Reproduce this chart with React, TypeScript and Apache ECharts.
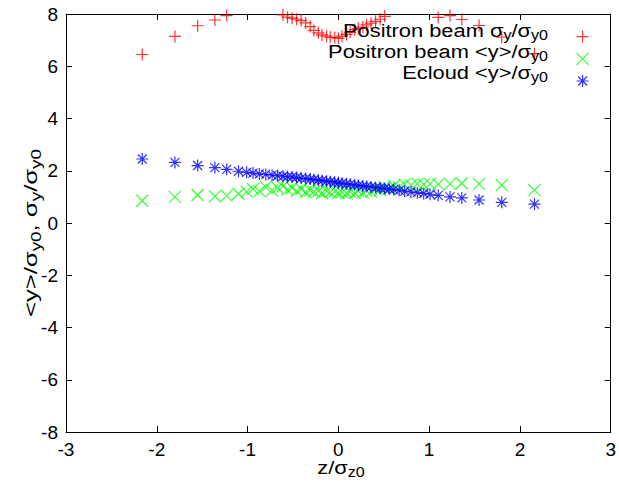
import React, { useEffect, useRef } from "react";
import * as echarts from "echarts";

const zValues = [
  -2.16, -1.8, -1.55, -1.36, -1.23, -1.1, -1.01, -0.94, -0.87, -0.8, -0.73, -0.67, -0.61,
  -0.56, -0.51, -0.46, -0.41, -0.36, -0.31, -0.27, -0.22, -0.18, -0.13, -0.09, -0.04, 0,
  0.04, 0.09, 0.13, 0.18, 0.22, 0.27, 0.31, 0.36, 0.41, 0.46, 0.51, 0.56, 0.61, 0.67, 0.73,
  0.8, 0.87, 0.94, 1.01, 1.1, 1.23, 1.36, 1.55, 1.8, 2.16,
];

const positronSigma = [
  6.45, 7.14, 7.55, 7.77, 7.94, 8.05, 8.12, 8.18, 8.2, 8.18, 8.12, 8.05, 7.97,
  7.88, 7.84, 7.8, 7.75, 7.66, 7.52, 7.37, 7.28, 7.2, 7.15, 7.11, 7.1, 7.07,
  7.15, 7.22, 7.3, 7.4, 7.45, 7.5, 7.58, 7.65, 7.72, 7.8, 7.91, 8.04, 8.08, 8.12, 8.15,
  8.18, 8.15, 8.1, 8.03, 7.87, 7.94, 7.79, 7.56, 7.11, 6.48,
];

const positronMean = [
  0.85, 1.0, 1.07, 1.02, 1.05, 1.12, 1.2, 1.3, 1.22, 1.38, 1.25, 1.35, 1.4,
  1.28, 1.35, 1.22, 1.3, 1.18, 1.25, 1.2, 1.22, 1.15, 1.22, 1.18, 1.2, 1.15,
  1.18, 1.14, 1.2, 1.15, 1.22, 1.16, 1.25, 1.2, 1.3, 1.25, 1.38, 1.32, 1.42, 1.38, 1.48,
  1.45, 1.5, 1.47, 1.5, 1.48, 1.5, 1.52, 1.5, 1.45, 1.26,
];

const ecloudMean = [
  2.45, 2.32, 2.2, 2.12, 2.05, 1.98, 1.94, 1.91, 1.88, 1.86, 1.83, 1.81, 1.79,
  1.77, 1.76, 1.74, 1.72, 1.7, 1.68, 1.66, 1.64, 1.62, 1.6, 1.58, 1.56, 1.54,
  1.52, 1.5, 1.48, 1.46, 1.44, 1.42, 1.4, 1.38, 1.36, 1.34, 1.32, 1.3, 1.28, 1.25, 1.22,
  1.19, 1.16, 1.13, 1.1, 1.06, 1.0, 0.96, 0.88, 0.79, 0.72,
];

const seriesNames = ["Positron beam sigma", "Positron beam mean", "Ecloud mean"];
const legendTexts = [
  "{m|Positron beam σ}{s|y}{m|/σ}{s|y0}",
  "{m|Positron beam <y>/σ}{s|y0}",
  "{m|Ecloud <y>/σ}{s|y0}",
];
const xTitle = "{m|z/σ}{s|z0}";
const yTitle = "{m|<y>/σ}{s|y0}{m|, σ}{s|y}{m|/σ}{s|y0}";

const FONT = "Liberation Sans, Arial, Helvetica, sans-serif";

const PLUS = "path://M0,6L12,6M6,0L6,12";
const CROSS = "path://M0,0L12,12M12,0L0,12";
const STAR = "path://M0,6L12,6M6,0L6,12M1.5,1.5L10.5,10.5M10.5,1.5L1.5,10.5";

const rich = {
  m: { fontSize: 19, fontFamily: FONT, fill: "#000", color: "#000" },
  s: { fontSize: 14, fontFamily: FONT, fill: "#000", color: "#000", padding: [10, 0, 0, 0] },
};

export default function App() {
  const ref = useRef<HTMLDivElement>(null);
  useEffect(() => {
    if (!ref.current) return;
    document.body.style.margin = "0";
    const chart = echarts.init(ref.current, undefined, { renderer: "svg" });
    const mk = (ys: number[]) => zValues.map((z, i) => [z, ys[i]]);
    const xBase = {
      type: "value" as const,
      min: -3,
      max: 3,
      interval: 1,
      splitLine: { show: false },
      axisLine: { show: true, onZero: false, lineStyle: { color: "#000", width: 1 } },
      axisTick: { show: true, inside: true, length: 6, lineStyle: { color: "#000" } },
    };
    const yBase = {
      type: "value" as const,
      min: -8,
      max: 8,
      interval: 2,
      splitLine: { show: false },
      axisLine: { show: true, onZero: false, lineStyle: { color: "#000", width: 1 } },
      axisTick: { show: true, inside: true, length: 6, lineStyle: { color: "#000" } },
    };
    const textStyle = (t: string) => ({
      text: t,
      rich,
      align: "center",
      textAlign: "center",
      verticalAlign: "middle",
      textVerticalAlign: "middle",
      fill: "#000",
    });
    chart.setOption({
      animation: false,
      backgroundColor: "#fff",
      grid: { left: 66, right: 4, top: 14, bottom: 50, containLabel: false },
      xAxis: [
        {
          ...xBase,
          position: "bottom",
          axisLabel: { show: true, color: "#000", fontSize: 19, fontFamily: FONT, margin: 8 },
        },
        { ...xBase, position: "top", axisLabel: { show: false } },
      ],
      yAxis: [
        {
          ...yBase,
          position: "left",
          axisLabel: { show: true, color: "#000", fontSize: 19, fontFamily: FONT, margin: 8 },
        },
        { ...yBase, position: "right", axisLabel: { show: false } },
      ],
      legend: {
        show: true,
        orient: "vertical",
        left: 571,
        top: 25,
        itemWidth: 12,
        itemHeight: 12,
        itemGap: 9,
        selectedMode: false,
        formatter: () => "",
        textStyle: { fontSize: 6 },
        itemStyle: { borderWidth: 1.2 },
        data: seriesNames,
      },
      series: [
        {
          name: seriesNames[0],
          type: "scatter",
          symbol: PLUS,
          symbolSize: 12,
          clip: true,
          data: mk(positronSigma),
          itemStyle: { color: "#ff0000", borderColor: "#ff0000", borderWidth: 1.2 },
        },
        {
          name: seriesNames[1],
          type: "scatter",
          symbol: CROSS,
          symbolSize: 12,
          clip: true,
          data: mk(positronMean),
          itemStyle: { color: "#00ff00", borderColor: "#00ff00", borderWidth: 1.2 },
        },
        {
          name: seriesNames[2],
          type: "scatter",
          symbol: STAR,
          symbolSize: 12,
          clip: true,
          data: mk(ecloudMean),
          itemStyle: { color: "#0000ff", borderColor: "#0000ff", borderWidth: 1.2 },
        },
      ],
      graphic: [
        ...legendTexts.map((t, i) => ({
          type: "text",
          x: 548,
          y: 30 + i * 21,
          scaleX: 1.15,
          z: 100,
          style: { ...textStyle(t), align: "right", textAlign: "right" },
        })),
        {
          type: "text",
          x: 341,
          y: 467,
          scaleX: 1.15,
          style: textStyle(xTitle),
        },
        {
          type: "text",
          x: 31,
          y: 233,
          rotation: Math.PI / 2,
          scaleX: 1.35,
          style: textStyle(yTitle),
        },
      ],
    });
    return () => chart.dispose();
  }, []);
  return <div ref={ref} style={{ width: 619, height: 482 }} />;
}
